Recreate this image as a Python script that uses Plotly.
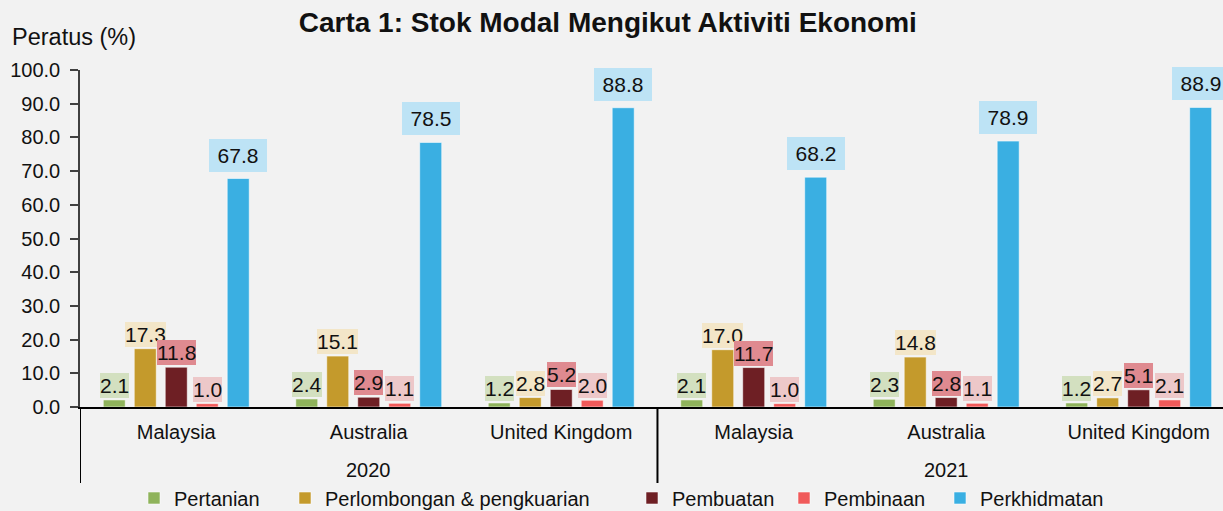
import plotly.graph_objects as go

# ---------------- data ----------------
years = ["2020", "2020", "2020", "2021", "2021", "2021"]
countries = ["Malaysia", "Australia", "United Kingdom", "Malaysia", "Australia", "United Kingdom"]
year_groups = ["2020", "2021"]
series_names = ["Pertanian", "Perlombongan & pengkuarian", "Pembuatan", "Pembinaan", "Perkhidmatan"]
pertanian = [2.1, 2.4, 1.2, 2.1, 2.3, 1.2]
perlombongan = [17.3, 15.1, 2.8, 17.0, 14.8, 2.7]
pembuatan = [11.8, 2.9, 5.2, 11.7, 2.8, 5.1]
pembinaan = [1.0, 1.1, 2.0, 1.0, 1.1, 2.1]
perkhidmatan = [67.8, 78.5, 88.8, 68.2, 78.9, 88.9]
y_ticks = [0, 10, 20, 30, 40, 50, 60, 70, 80, 90, 100]

series_values = [pertanian, perlombongan, pembuatan, pembinaan, perkhidmatan]
positions = list(range(len(countries)))  # category slots on the x axis

# ---------------- style ----------------
FONT = "Arial, Liberation Sans, sans-serif"
TXT = "#111111"
bar_colors = ["#8FB35B", "#C49A2C", "#6E1F24", "#F05A5A", "#3AAFE2"]
label_bg = ["#D3E0C0", "#F3E6C8", "#DF8A90", "#EDC8C9", "#BDE3F5"]
BG = "#F2F2F2"
BARGAP = 0.195
BARGROUPGAP = 0.29
X_RIGHT_CLIP = 0.062   # the last category runs slightly past the right edge
legend_ids = ["legend", "legend2", "legend3", "legend4", "legend5"]
legend_px = [134, 285, 632, 784, 940]
W, H = 1223, 511
M_L, M_R, M_T, M_B = 80, 0, 70, 104
plot_h = H - M_T - M_B

def paper_y(px):
    return (H - M_B - px) / plot_h

fig = go.Figure()
for i, (name, vals) in enumerate(zip(series_names, series_values)):
    fig.add_trace(go.Bar(
        x=positions, y=vals, name=name,
        customdata=[f"{c} {y}" for c, y in zip(countries, years)],
        hovertemplate="%{customdata}: %{y:.1f}<extra>" + name + "</extra>",
        marker=dict(color=bar_colors[i], line=dict(color="rgba(255,255,255,0.55)", width=1)),
        legend=legend_ids[i],
    ))

# data labels (boxes) positioned from the grouped-bar geometry
n = len(series_names)
slot = (1 - BARGAP) / n
annotations = []
for i, vals in enumerate(series_values):
    off = -(1 - BARGAP) / 2 + (i + 0.5) * slot
    big = (i == n - 1)
    for j, v in zip(positions, vals):
        ann = dict(
            x=j + off, y=v, xref="x", yref="y", text=f"{v:.1f}", showarrow=False,
            yanchor="bottom", xanchor="center", valign="middle",
            font=dict(family=FONT, size=21, color=TXT),
            bgcolor=label_bg[i], borderwidth=0,
        )
        if big:
            ann.update(borderpad=4, width=50, height=25, yshift=7)
        else:
            ann.update(borderpad=0, height=25, yshift=2)
        annotations.append(ann)

# outer category level (years) and dividers
shapes = []
for gi, g in enumerate(year_groups):
    idx = [p for p, y in zip(positions, years) if y == g]
    annotations.append(dict(
        text=g, x=sum(idx) / len(idx), y=paper_y(470), xref="x", yref="paper",
        showarrow=False, xanchor="center", yanchor="middle",
        font=dict(family=FONT, size=20, color=TXT),
    ))
    edge = min(idx) - 0.5
    shapes.append(dict(type="line", xref="x", yref="paper", x0=edge, x1=edge,
                       y0=0, y1=paper_y(483), line=dict(color="#000000", width=2)))

annotations.append(dict(
    text="Peratus (%)", xref="paper", yref="paper", x=(10 - M_L) / (W - M_L - M_R), y=paper_y(37),
    xanchor="left", yanchor="middle", showarrow=False,
    font=dict(family=FONT, size=23.5, color=TXT),
))

layout_legends = {}
for k, lid in enumerate(legend_ids):
    layout_legends[lid] = dict(
        x=legend_px[k] / W, xref="container", xanchor="left",
        y=1 - 498 / H, yref="container", yanchor="middle",
        orientation="h", bgcolor="rgba(0,0,0,0)", borderwidth=0,
        font=dict(family=FONT, size=20, color=TXT),
    )

fig.update_layout(
    width=W, height=H,
    paper_bgcolor=BG, plot_bgcolor=BG,
    margin=dict(l=M_L, r=M_R, t=M_T, b=M_B, autoexpand=False),
    barmode="group", bargap=BARGAP, bargroupgap=BARGROUPGAP,
    title=dict(text="<b>Carta 1: Stok Modal Mengikut Aktiviti Ekonomi</b>",
               x=0.497, xref="container", xanchor="center",
               y=1 - 22 / H, yref="container", yanchor="middle",
               font=dict(family=FONT, size=28, color=TXT)),
    font=dict(family=FONT, color=TXT),
    annotations=annotations,
    shapes=shapes,
    xaxis=dict(range=[-0.5, len(positions) - 0.5 - X_RIGHT_CLIP], tickvals=positions, ticktext=countries,
               showline=True, linecolor="#000000", linewidth=2, zeroline=False,
               showgrid=False, ticks="", ticklabelstandoff=6,
               tickfont=dict(family=FONT, size=20, color=TXT)),
    yaxis=dict(range=[0, 100], tickvals=y_ticks, tickformat=".1f", showgrid=False,
               zeroline=False, showline=True, linecolor="#404040", linewidth=1.5,
               ticks="outside", ticklen=8, tickcolor="#404040", tickwidth=1.5,
               ticklabelstandoff=6, tickfont=dict(family=FONT, size=20, color=TXT)),
    showlegend=True,
    **layout_legends,
)

fig.write_html("out.html", config={"displayModeBar": False},
               post_script="document.body.style.margin='0';document.body.style.overflow='hidden';")
